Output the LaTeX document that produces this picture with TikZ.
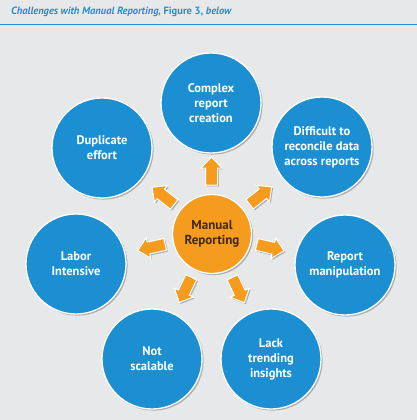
\documentclass[tikz,border=0pt]{standalone}
\usepackage{fontspec}
\setmainfont{PT Sans}
\usetikzlibrary{shadows,calc}
\definecolor{bgcol}{HTML}{E6E8EA}
\definecolor{bluec}{HTML}{1B8FD1}
\definecolor{orangec}{HTML}{F59C1E}
\definecolor{titlec}{HTML}{2A8ECB}
\definecolor{browntext}{HTML}{40290C}
\tikzset{
  x=1pt,y=-1pt,
  outer/.style={circle, fill=bluec, draw=white, line width=1.3pt, minimum size=100pt, inner sep=0pt,
    align=center, text=white, font=\bfseries\fontsize{12.5}{15}\selectfont,
    drop shadow={shadow xshift=1.6pt, shadow yshift=-1.6pt, opacity=0.45, fill=black!60}},
  hub/.style={circle, fill=orangec, draw=white, line width=1.3pt, minimum size=79pt, inner sep=0pt,
    align=center, text=browntext, font=\bfseries\fontsize{13}{15.5}\selectfont,
    drop shadow={shadow xshift=1.6pt, shadow yshift=-1.6pt, opacity=0.45, fill=black!60}},
  blockarrow/.style={fill=orangec, draw=white, line width=1pt, line join=miter,
    drop shadow={shadow xshift=1.4pt, shadow yshift=-1.4pt, opacity=0.45, fill=black!60}},
}
\newcommand{\blockarr}[2]{%
  \begin{scope}[shift={(#1)}, rotate=#2]
    \draw[blockarrow] (-14,-6) -- (3,-6) -- (3,-10.5) -- (14,0) -- (3,10.5) -- (3,6) -- (-14,6) -- cycle;
  \end{scope}}
\begin{document}
\begin{tikzpicture}
\fill[bgcol] (0,0) rectangle (417,420);
\useasboundingbox (0,0) rectangle (417,420);
\node[anchor=west, text=titlec, font=\bfseries\fontsize{10.5}{12}\selectfont, inner sep=0pt] (title) at (11,12)
  {\itshape Challenges with Manual Reporting,\upshape\ Figure 3, \itshape below};
\coordinate (l1) at (0,24.5);
\coordinate (l2) at (417,24.5);
\draw[titlec, line width=1.1pt] (l1) -- (l2);

\node[hub] (c) at (212,234) {Manual\\Reporting};
\node[outer] (o1) at (211,103) {Complex\\report\\creation};
\node[outer] (o2) at (322,147) {Difficult to\\reconcile data\\across reports};
\node[outer] (o3) at (345,265) {Report\\manipulation};
\node[outer] (o4) at (271,359) {Lack\\trending\\insights};
\node[outer] (o5) at (152,359) {Not\\scalable};
\node[outer] (o6) at (76,264) {Labor\\Intensive};
\node[outer] (o7) at (102,148) {Duplicate\\effort};

\coordinate (a1) at ($(c)!63pt!(o1)$);
\coordinate (a2) at ($(c)!62pt!(o2)$);
\coordinate (a3) at ($(c)!60pt!(o3)$);
\coordinate (a4) at ($(c)!62pt!(o4)$);
\coordinate (a5) at ($(c)!62pt!(o5)$);
\coordinate (a6) at ($(c)!62pt!(o6)$);
\coordinate (a7) at ($(c)!62pt!(o7)$);
\blockarr{a1}{90}
\blockarr{a2}{38.3}
\blockarr{a3}{-13.1}
\blockarr{a4}{-64.7}
\blockarr{a5}{-115.6}
\blockarr{a6}{192.4}
\blockarr{a7}{142}
\end{tikzpicture}
\end{document}
